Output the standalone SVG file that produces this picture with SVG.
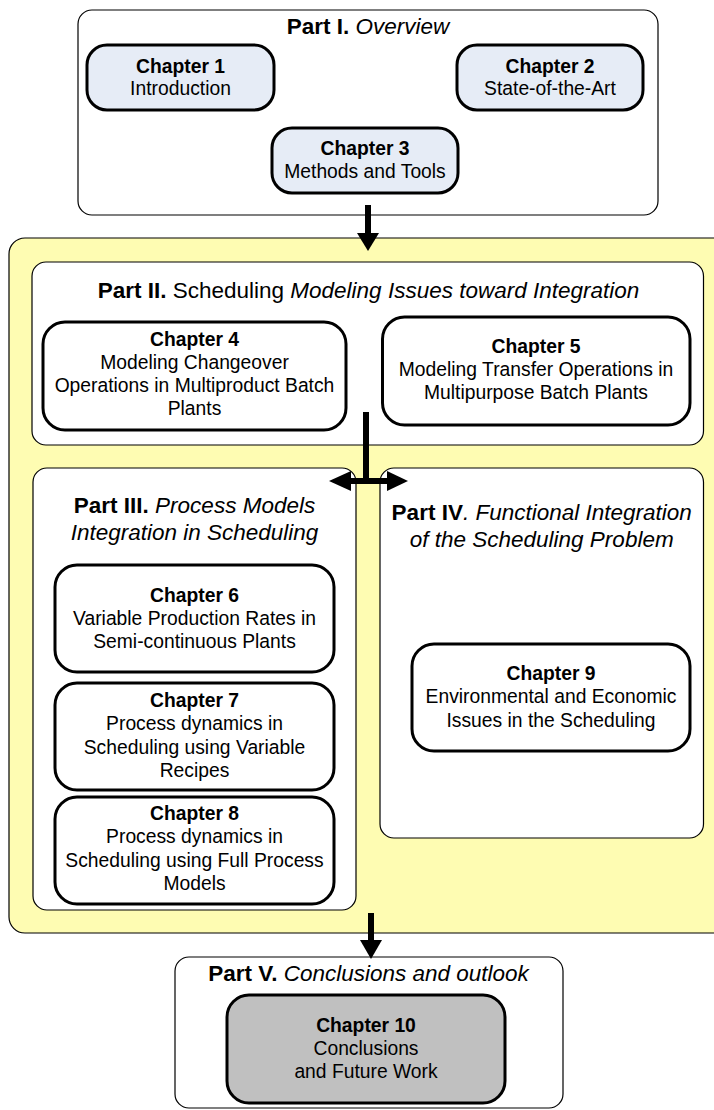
<svg xmlns="http://www.w3.org/2000/svg" width="714" height="1110" viewBox="0 0 714 1110">
<defs>
<style>
text{font-family:"Liberation Sans",Arial,sans-serif;fill:#000;text-anchor:middle}
.title{font-size:22.5px}
.ch{font-size:19.3px}
.b{font-weight:bold}
.i{font-style:italic}
.part{fill:#fff;stroke:#000;stroke-width:1.2}
.chap{fill:#fff;stroke:#000;stroke-width:3}
.blue{fill:#e6ecf6}
.grey{fill:#c0c0c0}
.conn{stroke:#000;stroke-width:6;fill:none}
.head{fill:#000;stroke:none}
</style>
</defs>
<rect width="714" height="1110" fill="#fff"/>
<g id="background-yellow">
<rect x="9" y="238" width="730" height="695" rx="16" fill="#fefcb2" stroke="#000" stroke-width="1.2"/>
</g>
<g id="part1">
<rect class="part" x="78" y="10" width="580" height="205" rx="14"/>
<text class="title" x="368" y="34"><tspan class="b">Part I.</tspan> <tspan class="i">Overview</tspan></text>
</g>
<g id="ch1">
<rect class="chap blue" x="87" y="45" width="187" height="65" rx="20"/>
<text class="ch" x="180.5" y="72.5"><tspan class="b">Chapter 1</tspan></text>
<text class="ch" x="180.5" y="95">Introduction</text>
</g>
<g id="ch2">
<rect class="chap blue" x="457" y="45" width="186" height="65" rx="20"/>
<text class="ch" x="550" y="72.5"><tspan class="b">Chapter 2</tspan></text>
<text class="ch" x="550" y="95">State-of-the-Art</text>
</g>
<g id="ch3">
<rect class="chap blue" x="272" y="128" width="186" height="65" rx="20"/>
<text class="ch" x="365" y="155"><tspan class="b">Chapter 3</tspan></text>
<text class="ch" x="365" y="178">Methods and Tools</text>
</g>
<g id="part2">
<rect class="part" x="32" y="262" width="671.5" height="183" rx="14"/>
<text class="title" x="368.5" y="298"><tspan class="b">Part II.</tspan> Scheduling <tspan class="i">Modeling Issues toward Integration</tspan></text>
</g>
<g id="ch4">
<rect class="chap" x="43" y="322" width="303" height="108" rx="22"/>
<text class="ch" x="194.5" y="346"><tspan class="b">Chapter 4</tspan></text>
<text class="ch" x="194.5" y="369">Modeling Changeover</text>
<text class="ch" x="194.5" y="392">Operations in Multiproduct Batch</text>
<text class="ch" x="194.5" y="415">Plants</text>
</g>
<g id="ch5">
<rect class="chap" x="382.5" y="317" width="307.5" height="108" rx="22"/>
<text class="ch" x="536" y="353"><tspan class="b">Chapter 5</tspan></text>
<text class="ch" x="536" y="376">Modeling Transfer Operations in</text>
<text class="ch" x="536" y="399">Multipurpose Batch Plants</text>
</g>
<g id="part3">
<rect class="part" x="33" y="468" width="323" height="442" rx="14"/>
<text class="title" x="194.5" y="513"><tspan class="b">Part III.</tspan> <tspan class="i">Process Models</tspan></text>
<text class="title i" x="194.5" y="540">Integration in Scheduling</text>
</g>
<g id="part4">
<rect class="part" x="380" y="468" width="323.5" height="370" rx="14"/>
<text class="title" x="541.7" y="520"><tspan class="b">Part IV</tspan><tspan class="i">. Functional Integration</tspan></text>
<text class="title i" x="541.7" y="547">of the Scheduling Problem</text>
</g>
<g id="ch6">
<rect class="chap" x="55" y="565" width="279" height="107" rx="22"/>
<text class="ch" x="194.5" y="602"><tspan class="b">Chapter 6</tspan></text>
<text class="ch" x="194.5" y="625">Variable Production Rates in</text>
<text class="ch" x="194.5" y="648">Semi-continuous Plants</text>
</g>
<g id="ch7">
<rect class="chap" x="55" y="683" width="279" height="107" rx="22"/>
<text class="ch" x="194.5" y="707"><tspan class="b">Chapter 7</tspan></text>
<text class="ch" x="194.5" y="730">Process dynamics in</text>
<text class="ch" x="194.5" y="754">Scheduling using Variable</text>
<text class="ch" x="194.5" y="777">Recipes</text>
</g>
<g id="ch8">
<rect class="chap" x="55" y="797" width="279" height="107" rx="22"/>
<text class="ch" x="194.5" y="820"><tspan class="b">Chapter 8</tspan></text>
<text class="ch" x="194.5" y="843">Process dynamics in</text>
<text class="ch" x="194.5" y="867">Scheduling using Full Process</text>
<text class="ch" x="194.5" y="890">Models</text>
</g>
<g id="ch9">
<rect class="chap" x="412" y="644" width="278" height="107" rx="22"/>
<text class="ch" x="551" y="680"><tspan class="b">Chapter 9</tspan></text>
<text class="ch" x="551" y="703">Environmental and Economic</text>
<text class="ch" x="551" y="727">Issues in the Scheduling</text>
</g>
<g id="part5">
<rect class="part" x="175" y="957" width="388" height="151" rx="14"/>
<text class="title" x="368.5" y="981"><tspan class="b">Part V.</tspan> <tspan class="i">Conclusions and outlook</tspan></text>
</g>
<g id="ch10">
<rect class="chap grey" x="227" y="995" width="278" height="108" rx="22"/>
<text class="ch" x="366" y="1032"><tspan class="b">Chapter 10</tspan></text>
<text class="ch" x="366" y="1055">Conclusions</text>
<text class="ch" x="366" y="1078">and Future Work</text>
</g>
<g id="connectors">
<line class="conn" x1="368" y1="205" x2="368" y2="234"/>
<polygon class="head" points="357,233 379,233 368,251"/>
<line class="conn" x1="366" y1="412" x2="366" y2="484"/>
<line class="conn" x1="348" y1="481" x2="390" y2="481"/>
<polygon class="head" points="329,481 351,471 351,491"/>
<polygon class="head" points="408,481 387,471 387,491"/>
<line class="conn" x1="371" y1="913" x2="371" y2="941"/>
<polygon class="head" points="360,940 382,940 371,959"/>
</g>
</svg>
